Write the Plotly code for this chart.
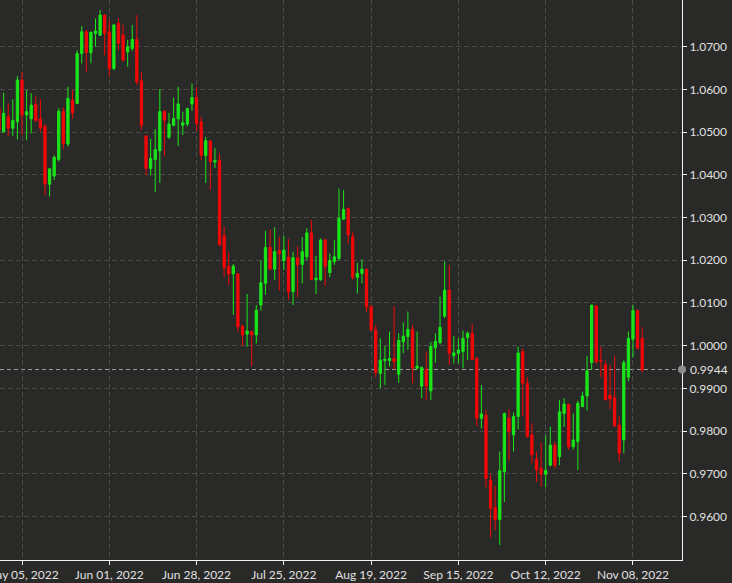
import plotly.graph_objects as go
import pandas as pd

# ---- data (EUR/CHF daily candles) ----
dates = pd.bdate_range("2022-04-28", periods=141).strftime("%Y-%m-%d").tolist()

open_ = [1.0556, 1.0501, 1.0536, 1.0509, 1.0524, 1.0622, 1.0540, 1.0531, 1.0565, 1.0531,
         1.0513, 1.0378, 1.0397, 1.0436, 1.0549, 1.0472, 1.0575, 1.0567, 1.0684, 1.0735,
         1.0686, 1.0731, 1.0727, 1.0774, 1.0735, 1.0649, 1.0755, 1.0727, 1.0688, 1.0696,
         1.0717, 1.0620, 1.0491, 1.0415, 1.0436, 1.0456, 1.0548, 1.0488, 1.0516, 1.0531,
         1.0516, 1.0519, 1.0566, 1.0581, 1.0524, 1.0445, 1.0479, 1.0430, 1.0434, 1.0257,
         1.0185, 1.0168, 1.0168, 1.0046, 1.0027, 1.0033, 1.0025, 1.0095, 1.0146, 1.0230,
         1.0179, 1.0222, 1.0199, 1.0207, 1.0126, 1.0206, 1.0190, 1.0208, 1.0264, 1.0154,
         1.0154, 1.0247, 1.0171, 1.0197, 1.0204, 1.0296, 1.0321, 1.0255, 1.0160, 1.0169,
         1.0179, 1.0091, 1.0037, 0.9935, 0.9965, 0.9965, 0.9970, 0.9933, 1.0009, 1.0021,
         1.0038, 0.9947, 0.9905, 0.9944, 0.9894, 0.9995, 1.0007, 1.0069, 1.0130, 0.9976,
         0.9982, 0.9986, 1.0019, 1.0029, 0.9970, 0.9830, 0.9837, 0.9685, 0.9621, 0.9593,
         0.9705, 0.9830, 0.9791, 0.9834, 0.9986, 0.9912, 0.9791, 0.9734, 0.9713, 0.9699,
         0.9720, 0.9767, 0.9740, 0.9841, 0.9862, 0.9763, 0.9775, 0.9857, 0.9882, 0.9960,
         1.0093, 0.9966, 0.9955, 0.9884, 0.9878, 0.9814, 0.9779, 0.9926, 1.0015, 1.0082,
         1.0017]
high = [1.0570, 1.0592, 1.0567, 1.0577, 1.0631, 1.0641, 1.0599, 1.0591, 1.0584, 1.0577,
        1.0520, 1.0415, 1.0446, 1.0556, 1.0558, 1.0606, 1.0599, 1.0692, 1.0748, 1.0739,
        1.0735, 1.0766, 1.0786, 1.0777, 1.0762, 1.0753, 1.0766, 1.0751, 1.0716, 1.0751,
        1.0774, 1.0641, 1.0493, 1.0484, 1.0507, 1.0601, 1.0552, 1.0545, 1.0581, 1.0606,
        1.0548, 1.0557, 1.0614, 1.0606, 1.0536, 1.0489, 1.0481, 1.0463, 1.0450, 1.0279,
        1.0220, 1.0191, 1.0170, 1.0048, 1.0121, 1.0035, 1.0095, 1.0200, 1.0269, 1.0272,
        1.0277, 1.0255, 1.0257, 1.0250, 1.0220, 1.0233, 1.0254, 1.0275, 1.0294, 1.0210,
        1.0251, 1.0251, 1.0216, 1.0247, 1.0368, 1.0364, 1.0324, 1.0267, 1.0194, 1.0202,
        1.0180, 1.0095, 1.0048, 1.0017, 0.9999, 1.0033, 1.0093, 1.0029, 1.0054, 1.0080,
        1.0048, 1.0033, 0.9951, 0.9986, 1.0009, 1.0029, 1.0115, 1.0197, 1.0189, 1.0022,
        1.0017, 1.0035, 1.0033, 1.0051, 0.9973, 0.9908, 0.9849, 0.9699, 0.9671, 0.9752,
        0.9843, 0.9851, 0.9843, 0.9998, 0.9993, 0.9926, 0.9818, 0.9752, 0.9773, 0.9790,
        0.9810, 0.9775, 0.9873, 0.9877, 0.9865, 0.9841, 0.9871, 0.9892, 0.9976, 1.0095,
        1.0094, 0.9998, 0.9964, 0.9955, 0.9976, 0.9834, 0.9966, 1.0033, 1.0095, 1.0085,
        1.0043]
low = [1.0495, 1.0499, 1.0491, 1.0491, 1.0483, 1.0493, 1.0481, 1.0497, 1.0524, 1.0501,
       1.0353, 1.0349, 1.0388, 1.0431, 1.0460, 1.0466, 1.0532, 1.0566, 1.0661, 1.0641,
       1.0661, 1.0700, 1.0725, 1.0680, 1.0630, 1.0645, 1.0692, 1.0665, 1.0653, 1.0690,
       1.0610, 1.0505, 1.0399, 1.0398, 1.0359, 1.0381, 1.0444, 1.0484, 1.0513, 1.0467,
       1.0493, 1.0513, 1.0550, 1.0503, 1.0434, 1.0381, 1.0364, 1.0416, 1.0233, 1.0161,
       1.0142, 1.0072, 1.0033, 0.9999, 0.9997, 0.9951, 1.0005, 1.0082, 1.0119, 1.0177,
       1.0154, 1.0129, 1.0177, 1.0107, 1.0095, 1.0113, 1.0146, 1.0200, 1.0154, 1.0121,
       1.0152, 1.0140, 1.0160, 1.0189, 1.0200, 1.0295, 1.0238, 1.0154, 1.0122, 1.0146,
       1.0079, 1.0033, 0.9926, 0.9900, 0.9908, 0.9951, 0.9944, 0.9913, 0.9982, 0.9990,
       0.9912, 0.9945, 0.9877, 0.9872, 0.9873, 0.9960, 1.0003, 1.0064, 0.9955, 0.9958,
       0.9958, 0.9947, 0.9966, 0.9966, 0.9812, 0.9806, 0.9668, 0.9551, 0.9568, 0.9533,
       0.9634, 0.9731, 0.9752, 0.9804, 0.9834, 0.9785, 0.9724, 0.9681, 0.9670, 0.9668,
       0.9717, 0.9712, 0.9720, 0.9810, 0.9756, 0.9756, 0.9709, 0.9857, 0.9848, 0.9943,
       0.9957, 0.9926, 0.9872, 0.9851, 0.9810, 0.9728, 0.9748, 0.9916, 0.9972, 0.9991,
       0.9937]
close = [1.0505, 1.0544, 1.0509, 1.0527, 1.0622, 1.0540, 1.0548, 1.0563, 1.0527, 1.0510,
         1.0378, 1.0414, 1.0441, 1.0549, 1.0474, 1.0579, 1.0545, 1.0684, 1.0735, 1.0686,
         1.0734, 1.0737, 1.0774, 1.0731, 1.0649, 1.0751, 1.0708, 1.0669, 1.0700, 1.0717,
         1.0618, 1.0516, 1.0415, 1.0438, 1.0459, 1.0548, 1.0528, 1.0519, 1.0532, 1.0566,
         1.0522, 1.0555, 1.0581, 1.0520, 1.0446, 1.0480, 1.0431, 1.0434, 1.0236, 1.0183,
         1.0168, 1.0186, 1.0044, 1.0025, 1.0034, 1.0025, 1.0083, 1.0147, 1.0230, 1.0179,
         1.0220, 1.0215, 1.0224, 1.0126, 1.0206, 1.0189, 1.0220, 1.0264, 1.0155, 1.0158,
         1.0247, 1.0185, 1.0199, 1.0208, 1.0298, 1.0319, 1.0259, 1.0160, 1.0169, 1.0179,
         1.0091, 1.0037, 0.9937, 0.9966, 0.9968, 0.9970, 0.9962, 1.0012, 1.0022, 1.0038,
         0.9947, 0.9952, 0.9949, 0.9905, 0.9998, 1.0010, 1.0043, 1.0130, 0.9982, 0.9983,
         0.9990, 1.0017, 1.0029, 0.9968, 0.9830, 0.9840, 0.9689, 0.9619, 0.9593, 0.9707,
         0.9841, 0.9798, 0.9834, 0.9983, 0.9912, 0.9787, 0.9744, 0.9709, 0.9699, 0.9708,
         0.9767, 0.9720, 0.9845, 0.9863, 0.9763, 0.9779, 0.9865, 0.9882, 0.9941, 1.0095,
         0.9962, 0.9964, 0.9873, 0.9875, 0.9812, 0.9748, 0.9960, 1.0017, 1.0082, 0.9994,
         0.9944]

tick_dates = ["2022-05-05", "2022-06-01", "2022-06-28", "2022-07-25",
              "2022-08-19", "2022-09-15", "2022-10-12", "2022-11-08"]
tick_labels = ["May 05, 2022", "Jun 01, 2022", "Jun 28, 2022", "Jul 25, 2022",
               "Aug 19, 2022", "Sep 15, 2022", "Oct 12, 2022", "Nov 08, 2022"]
price_ticks = [0.96, 0.97, 0.98, 0.99, 1.00, 1.01, 1.02, 1.03, 1.04, 1.05, 1.06, 1.07]

last = close[-1]

BG = "#292a28"
GRID = "#4a4b49"
AXIS = "#f2f2f2"
TXT = "#e0e0e0"
FONT = dict(family="Lato", size=12, color=TXT)

fig = go.Figure(go.Candlestick(
    x=dates, open=open_, high=high, low=low, close=close,
    increasing=dict(line=dict(color="#19e619", width=1), fillcolor="#19e619"),
    decreasing=dict(line=dict(color="#f20707", width=1), fillcolor="#f20707"),
    whiskerwidth=0, hoverinfo="skip",
))

fig.update_layout(
    template="none",
    width=732, height=583,
    margin=dict(l=0, r=50, t=0, b=23),
    paper_bgcolor=BG, plot_bgcolor=BG,
    showlegend=False,
    font=FONT,
)

fig.update_xaxes(
    type="category", range=[0.21, 148.67],
    rangeslider_visible=False,
    tickvals=tick_dates, ticktext=tick_labels,
    showgrid=True, gridcolor=GRID, gridwidth=1, griddash="5px,3px",
    showline=True, linecolor=AXIS, linewidth=1, mirror=False,
    ticks="outside", ticklen=4, tickcolor=AXIS, tickwidth=1,
    tickfont=FONT, zeroline=False, automargin=False,
)
fig.update_yaxes(
    side="right", range=[0.94979, 1.08094],
    tickvals=price_ticks, tickformat=".4f",
    showgrid=True, gridcolor=GRID, gridwidth=1, griddash="5px,3px",
    showline=True, linecolor=AXIS, linewidth=1,
    ticks="outside", ticklen=4, tickcolor=AXIS, tickwidth=1,
    tickfont=FONT, zeroline=False, automargin=False,
)

# last price line and marker
fig.add_shape(type="line", xref="paper", x0=0, x1=1, yref="y", y0=last, y1=last,
              line=dict(color="#9d9d9d", width=1, dash="4px,3px"), layer="below")
fig.add_shape(type="circle", xref="paper", yref="y", xsizemode="pixel", ysizemode="pixel",
              xanchor=1, yanchor=last, x0=-4, x1=4, y0=-4, y1=4,
              fillcolor="#8c8c8c", line=dict(width=0), layer="above")
fig.add_annotation(x=1, xref="paper", y=last, yref="y", text=f"{last:.4f}",
                   xanchor="left", xshift=6, showarrow=False, font=FONT)

fig.write_html(
    "out.html",
    config={"displayModeBar": False},
    post_script="document.body.style.margin='0';document.body.style.padding='0';"
                "document.body.style.background='" + BG + "';",
)
